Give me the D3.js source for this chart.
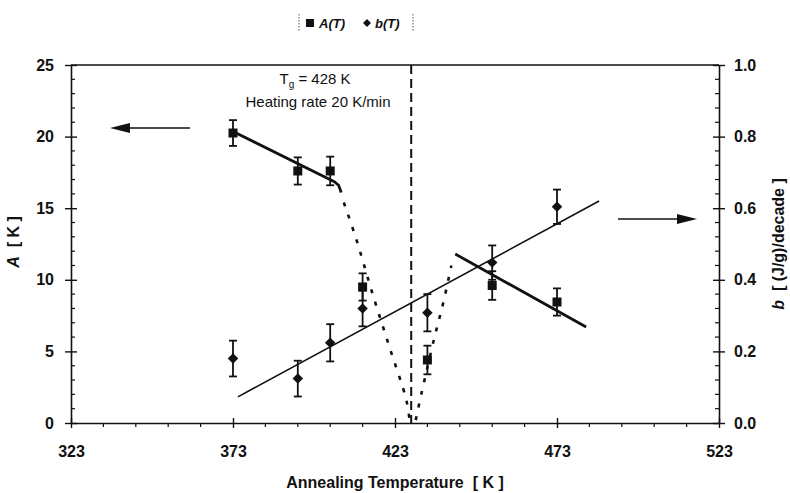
<!DOCTYPE html>
<html>
<head>
<meta charset="utf-8">
<script src="https://cdn.jsdelivr.net/npm/d3@7"></script>
<style>
  body { margin: 0; background: #fff; }
  svg text { font-family: "Liberation Sans", Arial, sans-serif; fill: #111; }
</style>
</head>
<body>
<div id="chart"></div>
<script>
// annealing temperatures [K]
const temps = [373, 393, 403, 413, 433, 453, 473];
// A(T) [K] with error
const aValues = [20.25, 17.6, 17.6, 9.5, 4.4, 9.6, 8.45];
const aErrors = [0.9, 0.95, 1.0, 0.95, 1.0, 1.0, 0.95];
// b(T) [(J/g)/decade] with error
const bValues = [0.18, 0.124, 0.224, 0.32, 0.308, 0.448, 0.604];
const bErrors = [0.05, 0.05, 0.052, 0.05, 0.052, 0.048, 0.048];

// guide curves
const aFitLow = [[373.5, 20.3], [404.3, 16.85], [405.6, 16.6], [406.4, 16.1]];
const aDropLeft = [[407.2, 15.4], [411.1, 12.8], [416.1, 9.0], [421.3, 5.3], [426.5, 1.6], [427.6, 0]];
const aRiseRight = [[429.4, 0.2], [431.2, 2.1], [435.2, 6.0], [437.9, 8.4], [440.4, 11.0]];
const aFitHigh = [[441.6, 11.8], [482, 6.7]];
const bFit = [[374.5, 0.073], [486, 0.62]];
const tg = 428;

const xTicks = [323, 373, 423, 473, 523];
const aTicks = [0, 5, 10, 15, 20, 25];
const bTicks = [0, 0.2, 0.4, 0.6, 0.8, 1.0];

const width = 790, height = 493;
const margin = {top: 65, right: 71, bottom: 70, left: 71};

const svg = d3.select("#chart").append("svg")
    .attr("width", width)
    .attr("height", height);

const x = d3.scaleLinear().domain([323, 523]).range([margin.left, width - margin.right]);
const yA = d3.scaleLinear().domain([0, 25]).range([height - margin.bottom, margin.top]);
const yB = d3.scaleLinear().domain([0, 1]).range([height - margin.bottom, margin.top]);

const x0 = x.range()[0], x1 = x.range()[1];
const y0 = yA.range()[0], y1 = yA.range()[1];

// top frame line
svg.append("line")
    .attr("x1", x0).attr("x2", x1).attr("y1", y1).attr("y2", y1)
    .attr("stroke", "#111").attr("stroke-width", 1.3);

// minor ticks
const xMinor = d3.range(323, 524, 10).filter(v => !xTicks.includes(v));
svg.append("g").selectAll("line").data(xMinor).join("line")
    .attr("x1", d => x(d)).attr("x2", d => x(d))
    .attr("y1", y0).attr("y2", y0 + 4)
    .attr("stroke", "#111").attr("stroke-width", 1.2);
const aMinor = d3.range(0, 26, 1).filter(v => v % 5 !== 0);
svg.append("g").selectAll("line").data(aMinor).join("line")
    .attr("x1", x0).attr("x2", x0 + 4)
    .attr("y1", d => yA(d)).attr("y2", d => yA(d))
    .attr("stroke", "#111").attr("stroke-width", 1.2);
const bMinor = d3.range(0, 26, 1).filter(v => v % 5 !== 0).map(v => v * 0.04);
svg.append("g").selectAll("line").data(bMinor).join("line")
    .attr("x1", x1).attr("x2", x1 - 4)
    .attr("y1", d => yB(d)).attr("y2", d => yB(d))
    .attr("stroke", "#111").attr("stroke-width", 1.2);

// axes
function styleAxis(g) {
    g.select(".domain").attr("stroke", "#111").attr("stroke-width", 1.6);
    g.selectAll(".tick line").attr("stroke", "#111").attr("stroke-width", 1.4);
    g.selectAll(".tick text").attr("font-size", 16).attr("font-weight", "bold")
        .attr("font-family", "'Liberation Sans', Arial, sans-serif").attr("fill", "#111");
}

const gx = svg.append("g")
    .attr("transform", `translate(0,${y0})`)
    .call(d3.axisBottom(x).tickValues(xTicks).tickSize(5).tickSizeOuter(0).tickPadding(12).tickFormat(d3.format("d")))
    .call(styleAxis);
gx.selectAll(".tick line").attr("y1", -5);
gx.selectAll(".tick text").attr("dy", "1.05em");

const gyA = svg.append("g")
    .attr("transform", `translate(${x0},0)`)
    .call(d3.axisLeft(yA).tickValues(aTicks).tickSize(6).tickSizeOuter(0).tickPadding(11).tickFormat(d3.format("d")))
    .call(styleAxis);
gyA.selectAll(".tick line").attr("x1", 6);

const gyB = svg.append("g")
    .attr("transform", `translate(${x1},0)`)
    .call(d3.axisRight(yB).tickValues(bTicks).tickSize(6).tickSizeOuter(0).tickPadding(9).tickFormat(d3.format(".1f")))
    .call(styleAxis);
gyB.selectAll(".tick line").attr("x1", -6);

// axis titles
svg.append("text")
    .attr("x", (x0 + x1) / 2).attr("y", 488)
    .attr("text-anchor", "middle")
    .attr("font-size", 16).attr("font-weight", "bold")
    .attr("xml:space", "preserve")
    .text("Annealing Temperature  [ K ]");

svg.append("text")
    .attr("transform", `translate(19,${(y0 + y1) / 2 - 2}) rotate(-90)`)
    .attr("text-anchor", "middle")
    .attr("font-size", 16).attr("font-weight", "bold")
    .attr("xml:space", "preserve")
    .html('<tspan font-style="italic">A</tspan>  [ K ]');

svg.append("text")
    .attr("transform", `translate(784,${(y0 + y1) / 2}) rotate(-90)`)
    .attr("text-anchor", "middle")
    .attr("font-size", 16).attr("font-weight", "bold")
    .attr("xml:space", "preserve")
    .html('<tspan font-style="italic">b</tspan>  [ (J/g)/decade ]');

// Tg annotation
svg.append("text")
    .attr("x", 315).attr("y", 84)
    .attr("text-anchor", "middle").attr("font-size", 15)
    .html('T<tspan font-size="10" dy="4">g</tspan><tspan dy="-4"> = 428 K</tspan>');
svg.append("text")
    .attr("x", 318).attr("y", 107)
    .attr("text-anchor", "middle").attr("font-size", 15)
    .text("Heating rate 20 K/min");

// Tg dashed vertical line
svg.append("line")
    .attr("x1", x(tg)).attr("x2", x(tg))
    .attr("y1", y1).attr("y2", y0)
    .attr("stroke", "#111").attr("stroke-width", 2)
    .attr("stroke-dasharray", "9,5");

// guide lines
const lineA = d3.line().x(d => x(d[0])).y(d => yA(d[1]));
const lineB = d3.line().x(d => x(d[0])).y(d => yB(d[1]));

[aFitLow, aFitHigh].forEach(seg => {
    svg.append("path").datum(seg)
        .attr("d", lineA)
        .attr("fill", "none").attr("stroke", "#111").attr("stroke-width", 2.8)
        .attr("stroke-linejoin", "round");
});
[aDropLeft, aRiseRight].forEach(seg => {
    svg.append("path").datum(seg)
        .attr("d", d3.line().x(d => x(d[0])).y(d => yA(d[1])).curve(d3.curveCatmullRom))
        .attr("fill", "none").attr("stroke", "#111").attr("stroke-width", 2.6)
        .attr("stroke-dasharray", "4,9");
});
svg.append("path").datum(bFit)
    .attr("d", lineB)
    .attr("fill", "none").attr("stroke", "#111").attr("stroke-width", 1.6);

// error bars + markers
function errorBars(vals, errs, y) {
    const g = svg.append("g").attr("stroke", "#111").attr("stroke-width", 1.8);
    temps.forEach((t, i) => {
        const cx = x(t), top = y(vals[i] + errs[i]), bot = y(vals[i] - errs[i]);
        g.append("line").attr("x1", cx).attr("x2", cx).attr("y1", top).attr("y2", bot);
        g.append("line").attr("x1", cx - 4).attr("x2", cx + 4).attr("y1", top).attr("y2", top);
        g.append("line").attr("x1", cx - 4).attr("x2", cx + 4).attr("y1", bot).attr("y2", bot);
    });
}
errorBars(aValues, aErrors, yA);
errorBars(bValues, bErrors, yB);

svg.append("g").selectAll("rect").data(temps).join("rect")
    .attr("x", d => x(d) - 4.5)
    .attr("y", (d, i) => yA(aValues[i]) - 4.5)
    .attr("width", 9).attr("height", 9)
    .attr("fill", "#111");

svg.append("g").selectAll("path").data(temps).join("path")
    .attr("transform", (d, i) => `translate(${x(d)},${yB(bValues[i])})`)
    .attr("d", d3.symbol(d3.symbolDiamond2, 70))
    .attr("fill", "#111");

// arrows
const arrows = [
    {from: [190, 128], to: [110, 128]},
    {from: [618, 219], to: [697, 219]}
];
arrows.forEach(a => {
    const dir = Math.sign(a.to[0] - a.from[0]);
    svg.append("line")
        .attr("x1", a.from[0]).attr("x2", a.to[0] - dir * 10)
        .attr("y1", a.from[1]).attr("y2", a.to[1])
        .attr("stroke", "#111").attr("stroke-width", 1.6);
    svg.append("path")
        .attr("d", `M${a.to[0]},${a.to[1]} L${a.to[0] - dir * 20},${a.to[1] - 5} L${a.to[0] - dir * 20},${a.to[1] + 5} Z`)
        .attr("fill", "#111");
});

// legend
const leg = svg.append("g").attr("transform", "translate(0,23)");
leg.append("line").attr("x1", 299).attr("x2", 299).attr("y1", -9).attr("y2", 9)
    .attr("stroke", "#555").attr("stroke-width", 1).attr("stroke-dasharray", "1.5,1.5");
leg.append("line").attr("x1", 413).attr("x2", 413).attr("y1", -9).attr("y2", 9)
    .attr("stroke", "#555").attr("stroke-width", 1).attr("stroke-dasharray", "1.5,1.5");
leg.append("rect").attr("x", 306).attr("y", -4).attr("width", 8).attr("height", 8).attr("fill", "#111");
leg.append("text").attr("x", 319).attr("y", 5).attr("font-size", 13)
    .attr("font-weight", "bold").attr("font-style", "italic").text("A(T)");
leg.append("path").attr("transform", "translate(367,0)")
    .attr("d", d3.symbol(d3.symbolDiamond2, 40)).attr("fill", "#111");
leg.append("text").attr("x", 375).attr("y", 5).attr("font-size", 13)
    .attr("font-weight", "bold").attr("font-style", "italic").text("b(T)");
</script>
</body>
</html>
